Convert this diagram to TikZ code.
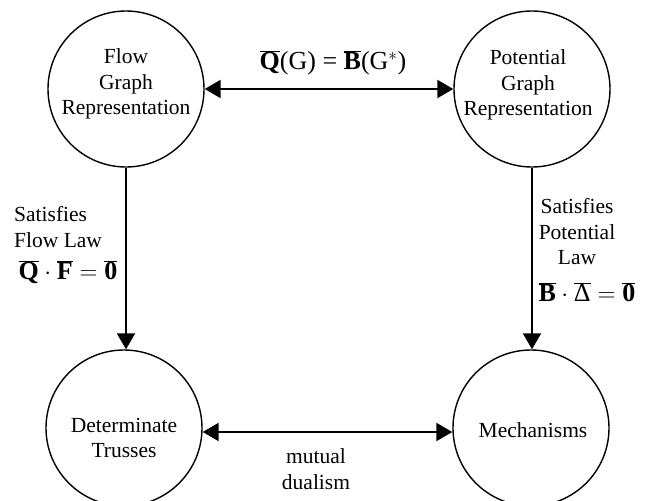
\documentclass[tikz,border=0pt]{standalone}
\usepackage{fontspec}
\setmainfont{Liberation Serif}
\usetikzlibrary{arrows.meta,positioning}
\newcommand{\vbar}[1]{\overline{\mbox{\textbf{#1}}}}

\begin{document}
\begin{tikzpicture}[x=1pt, y=-1pt,
            >={Triangle[length=16pt, width=18pt]},
            ring/.style={circle, draw, line width=1.4pt, minimum size=156pt, inner sep=0pt},
            txt/.style={font=\fontsize{21.5}{25.5}\selectfont, align=center, inner sep=0pt},
            eqn/.style={font=\fontsize{26}{30}\selectfont, inner sep=0pt},
            link/.style={<->, line width=2.2pt},
            law/.style={->, line width=2.2pt}
          ]
          \useasboundingbox (0,0) rectangle (646,501);
          % the four circles
          \node[ring] (flow) at (126,89)  {};
          \node[ring] (pot)  at (532,89)  {};
          \node[ring] (det)  at (124,428) {};
          \node[ring] (mech) at (531,428) {};
          \node[txt] (flowtxt) at (126,84)  {Flow\\Graph\\Representation};
          \node[txt] (pottxt)  at (528,85)  {Potential\\Graph\\Representation};
          \node[txt] (dettxt)  at (124,438) {Determinate\\Trusses};
          \node[txt] (mechtxt) at (533,430) {Mechanisms};
          % dualities
          \draw[link] (flow.east) -- (pot.west);
          \draw[link] ([yshift=-4pt]det.east) -- ([yshift=-4pt]mech.west);
          \node[eqn] (dualeq) at (333,63) {$\vbar{Q}$(G) = $\vbar{B}$(G$^*$)};
          \node[txt] (dual)   at (316,469) {mutual\\dualism};
          % laws
          \draw[law] (flow.south) -- (flow.south |- det.north);
          \draw[law] (pot.south) -- (pot.south |- mech.north);
          \node[txt, align=left, anchor=west] (flowlaw) at (14,227) {Satisfies\\Flow Law};
          \node[eqn] (floweq) at (68,272) {$\vbar{Q}\cdot\vbar{F}=\vbar{0}$};
          \node[txt] (potlaw) at (577,232) {Satisfies\\Potential\\Law};
          \node[eqn] (poteq)  at (587,292) {$\vbar{B}\cdot\overline{\mbox{Δ}}=\vbar{0}$};
        \end{tikzpicture}
\end{document}
